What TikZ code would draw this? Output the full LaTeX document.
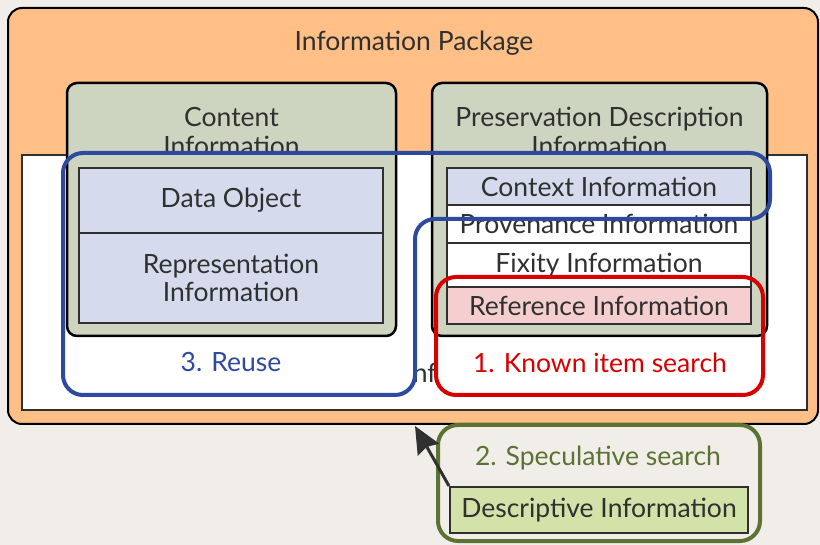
\documentclass[tikz,border=0pt]{standalone}
\usepackage{fontspec}
\setmainfont{Lato}
\usetikzlibrary{arrows.meta}
\definecolor{paper}{HTML}{F1EEEA}
\definecolor{pkgorange}{HTML}{FFBF86}
\definecolor{boxgreen}{HTML}{CDD5C0}
\definecolor{lavender}{HTML}{D5DAEC}
\definecolor{pinkish}{HTML}{F5CFCF}
\definecolor{descgreen}{HTML}{D2E2A8}
\definecolor{ink}{HTML}{303030}
\definecolor{reuseblue}{HTML}{2E4A9E}
\definecolor{searchred}{HTML}{D60000}
\definecolor{olive}{HTML}{5B7332}
\tikzset{
  lbl/.style={text=ink, font=\fontsize{26.5}{29}\selectfont, inner sep=0pt, align=center},
  greenbox/.style={draw=black, line width=2.5pt, fill=boxgreen, rounded corners=10pt},
  cell/.style={draw=ink, line width=2pt, inner sep=0pt, text=ink,
    font=\fontsize{26.5}{28}\selectfont, align=center},
  region/.style={line width=4pt, rounded corners=20pt},
}
\begin{document}
\begin{tikzpicture}[x=1pt,y=-1pt]
\useasboundingbox (0,0) rectangle (820,545);
\fill[paper] (0,0) rectangle (820,545);

% information package
\node[draw=black, line width=2pt, fill=pkgorange, rounded corners=14pt,
      minimum width=810pt, minimum height=416pt, inner sep=0pt] (pkg) at (413,216) {};
\node[lbl] (pkgtitle) at (414,43) {Information Package};

% packaging information
\node[draw=ink, line width=2.5pt, fill=white, minimum width=785pt,
      minimum height=255pt, inner sep=0pt] (packing) at (414.5,282.5) {};
\node[lbl] (packlbl) at (412,375) {Packaging Information};

% white backgrounds of the two lower highlight regions
\fill[white, rounded corners=20pt] (63,153) -- (770,153) -- (770,219) -- (415,219)
  -- (415,395) -- (63,395) -- cycle;
\fill[white, rounded corners=20pt] (436,277) rectangle (763,395);

% content information
\node[greenbox, minimum width=329pt, minimum height=253pt, inner sep=0pt] (content) at (231.5,209.5) {};
\begin{scope}
  \clip (60,80) rectangle (400,152);
  \node[lbl] (contentlbl) at (231.5,132) {Content\\Information};
\end{scope}
\node[cell, fill=lavender, minimum width=304pt, minimum height=65pt] (dataobj) at (231,200.5) {Data Object};
\node[cell, fill=lavender, minimum width=304pt, minimum height=90pt] (repinfo) at (231,278) {Representation\\Information};

% preservation description information
\node[greenbox, minimum width=335pt, minimum height=253pt, inner sep=0pt] (pdi) at (599.5,209.5) {};
\begin{scope}
  \clip (428,80) rectangle (772,152);
  \node[lbl] (pdilbl) at (599.5,131) {Preservation Description\\Information};
\end{scope}
\node[cell, fill=lavender, minimum width=304pt, minimum height=37pt] (context) at (599,186.5) {Context Information};
\node[cell, fill=white, minimum width=304pt, minimum height=38pt] (provenance) at (599,224) {Provenance Information};
\node[cell, fill=white, minimum width=304pt, minimum height=44pt] (fixity) at (599,265) {Fixity Information};
\node[cell, fill=pinkish, minimum width=304pt, minimum height=37pt] (reference) at (599,305.5) {Reference Information};

% highlight outlines
\draw[region, draw=searchred] (436,277) rectangle (763,395);
\node[lbl, text=searchred] (known) at (600,363) {1. Known item search};
\draw[region, draw=reuseblue] (63,153) -- (770,153) -- (770,219) -- (415,219)
  -- (415,395) -- (63,395) -- cycle;
\node[lbl, text=reuseblue] (reuse) at (231,362) {3. Reuse};

% speculative search
\node[draw=olive, line width=4pt, rounded corners=20pt, minimum width=322pt,
      minimum height=116pt, inner sep=0pt] (spec) at (599,483) {};
\node[lbl, text=olive] (speclbl) at (598,458) {2. Speculative search};
\node[cell, fill=descgreen, minimum width=298pt, minimum height=46pt] (desc) at (599,510) {Descriptive Information};

\coordinate (pkgedge) at (415,426);
\draw[line width=3pt, draw=ink, -{Stealth[length=27pt,width=24pt,inset=3pt]}] (desc.north west) -- (pkgedge);
\end{tikzpicture}
\end{document}
